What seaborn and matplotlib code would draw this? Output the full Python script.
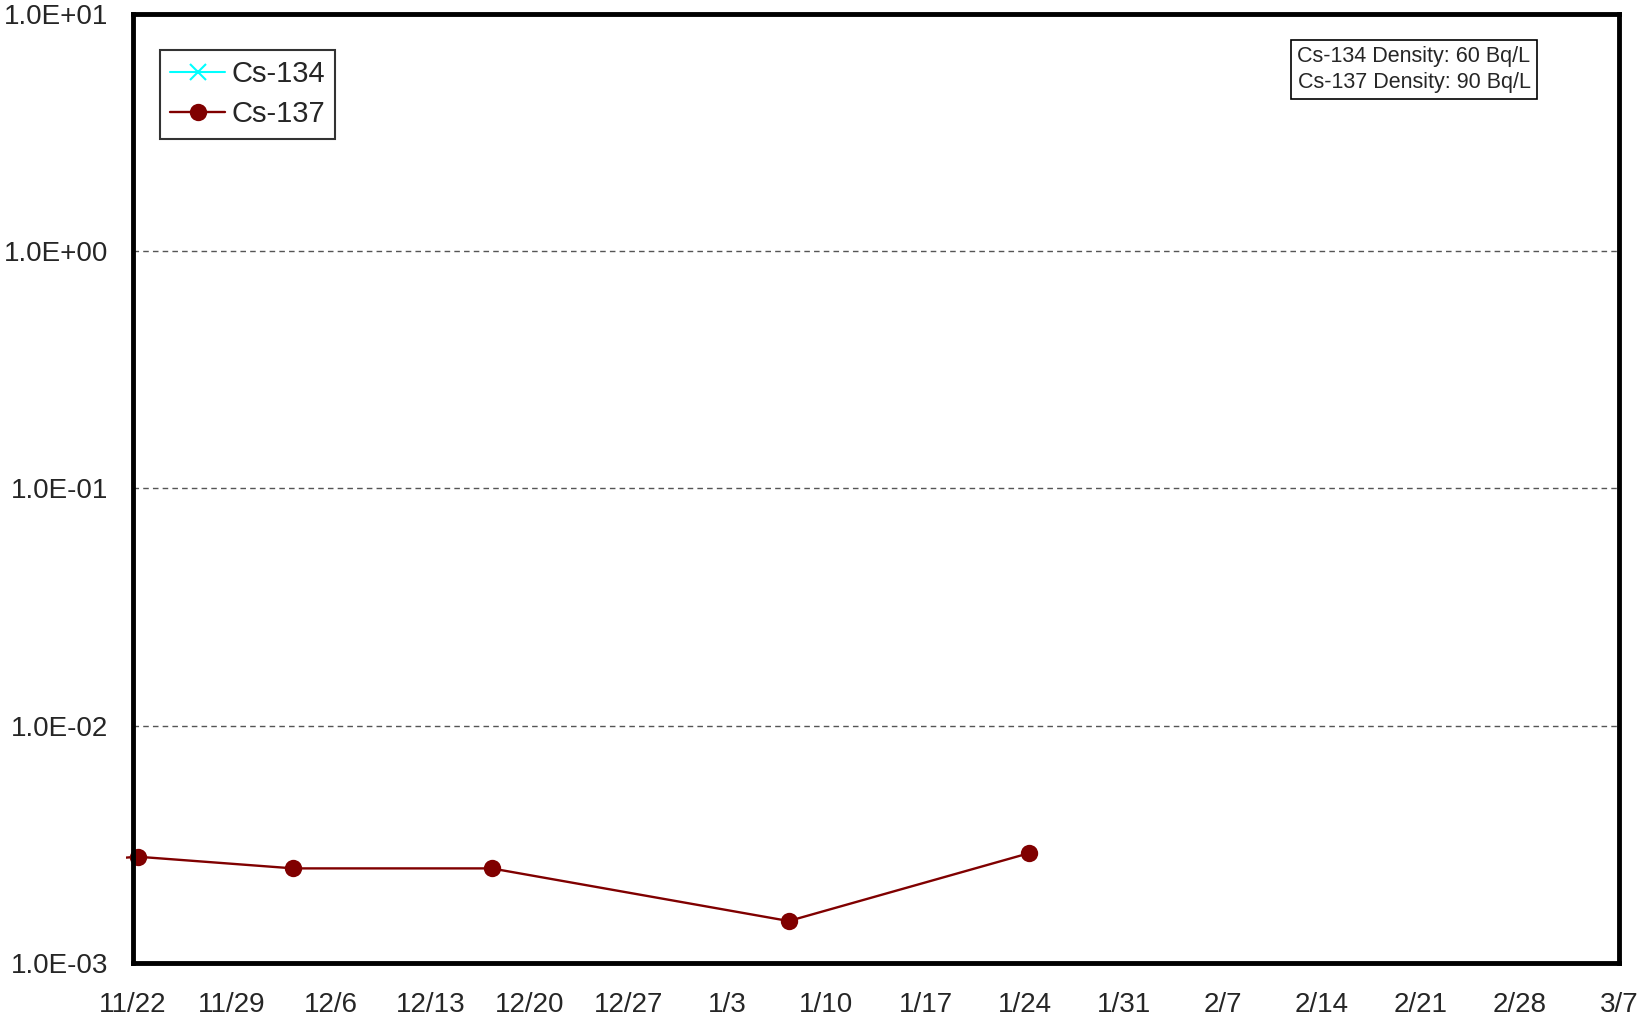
import pandas as pd
import numpy as np
import matplotlib
matplotlib.use("Agg")
import matplotlib.pyplot as plt
import matplotlib.dates as mdates
from matplotlib.ticker import FuncFormatter, FixedLocator
from matplotlib.patches import Rectangle
import seaborn as sns

# data (sampling time is a little after midnight)
cs137_dates = ["2012-11-15 08:00", "2012-11-22 08:00", "2012-12-03 08:00",
               "2012-12-17 08:00", "2013-01-07 08:00", "2013-01-24 08:00"]
cs137_values = [2.6e-3, 2.8e-3, 2.5e-3, 2.5e-3, 1.5e-3, 2.9e-3]
cs134_dates = []
cs134_values = []
y_ticks = [1e-3, 1e-2, 1e-1, 1e0, 1e1]
y_tick_labels = ["1.0E-03", "1.0E-02", "1.0E-01", "1.0E+00", "1.0E+01"]
note_lines = ["Cs-134 Density: 60 Bq/L", "Cs-137 Density: 90 Bq/L"]

df = pd.DataFrame({"date": pd.to_datetime(cs137_dates), "value": cs137_values})

sns.set_style("white")
plt.rcParams["font.family"] = ["Liberation Sans", "DejaVu Sans"]

fig = plt.figure(figsize=(16.42, 10.21), dpi=100)
ax = fig.add_axes([0.081, 0.057, 0.905, 0.9295])

ax.plot(pd.to_datetime(cs134_dates), cs134_values, color="cyan", marker="x",
        markersize=11, markeredgewidth=1.5, linewidth=1.5, label="Cs-134")
sns.lineplot(x="date", y="value", data=df, ax=ax, color="#800000", marker="o",
             markersize=12.5, markeredgewidth=0, linewidth=1.7, label="Cs-137")

# Excel lets the line poke just past the plot border
clip = Rectangle((-0.005, 0), 1.005, 1, transform=ax.transAxes, facecolor="none")
for line in ax.get_lines():
    line.set_clip_path(clip)

ax.set_yscale("log")
ax.set_ylim(1e-3, 1e1)
ax.yaxis.set_major_locator(FixedLocator(y_ticks))
ax.yaxis.set_minor_locator(FixedLocator([]))
ax.set_yticklabels(y_tick_labels)

start = pd.Timestamp("2012-11-22")
end = pd.Timestamp("2013-03-07")
ax.set_xlim(start, end)
ax.xaxis.set_major_locator(FixedLocator(mdates.date2num(pd.date_range(start, end, freq="7D"))))
ax.xaxis.set_major_formatter(FuncFormatter(lambda v, p: f"{mdates.num2date(v).month}/{mdates.num2date(v).day}"))

ax.tick_params(axis="x", direction="in", length=9, width=1, color="#444444",
               labelsize=20, pad=21)
ax.tick_params(axis="y", length=0, labelsize=20, pad=18)

for v in y_ticks[1:-1]:
    ax.axhline(v, color="#555555", linestyle=(0, (4, 3)), linewidth=1)

for s in ax.spines.values():
    s.set_color("black")
    s.set_linewidth(3.5)

ax.set_xlabel("")
ax.set_ylabel("")

leg = ax.legend(loc="upper left", bbox_to_anchor=(0.018, 0.962), borderaxespad=0,
                fontsize=21, frameon=True, fancybox=False, handlelength=1.9,
                handletextpad=0.2, borderpad=0.35, labelspacing=0.42)
leg.get_frame().set_edgecolor("black")
leg.get_frame().set_linewidth(1.5)

ax.text(0.9405, 0.966, "\n".join(note_lines), transform=ax.transAxes, ha="right", va="top",
        fontsize=15.5, linespacing=1.28,
        bbox=dict(boxstyle="square,pad=0.3", facecolor="white", edgecolor="black", linewidth=1.2))

plt.savefig("out.png", dpi=100)
